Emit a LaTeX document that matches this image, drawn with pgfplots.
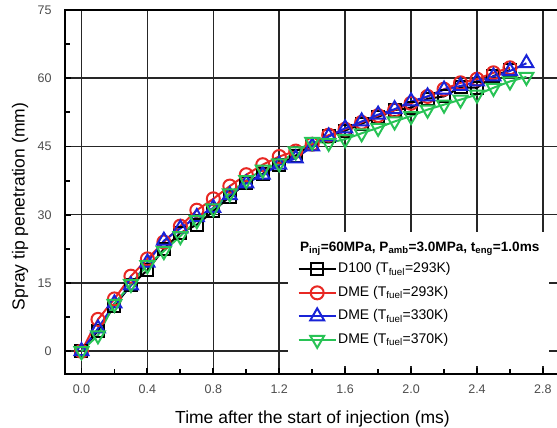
\documentclass[border=0pt]{standalone}
\usepackage{fontspec}
\setmainfont{Liberation Sans}
\usepackage{pgfplots}
\pgfplotsset{compat=1.18}
\definecolor{cRed}{RGB}{232,40,35}
\definecolor{cBlue}{RGB}{25,35,215}
\definecolor{cGreen}{RGB}{40,195,85}
\begin{document}
\begin{tikzpicture}
\begin{axis}[
  scale only axis, width=495pt, height=364pt,
  xmin=-0.1, xmax=2.9037, ymin=-5, ymax=75,
  xtick={0,0.4,0.8,1.2,1.6,2.0,2.4,2.8},
  ytick={0,15,30,45,60,75},
  minor tick num=1,
  tick pos=left, tick align=inside,
  major tick length=6pt, minor tick length=5pt,
  every tick/.style={black, line width=1.8pt},
  grid=major, major grid style={black!85, line width=1.5pt},
  axis line style={line width=2.4pt},
  /pgf/number format/assume math mode=true,
  ticklabel style={font=\fontsize{12.5}{14}\selectfont, text=black!70},
  xticklabel style={/pgf/number format/.cd, fixed, fixed zerofill, precision=1, /tikz/.cd, yshift=-7pt},
  yticklabel style={xshift=-10pt},
  xlabel={Time after the start of injection (ms)},
  xlabel style={at={([yshift=-50pt]axis description cs:0.5,0)}, anchor=base, font=\fontsize{17.5}{20}\selectfont},
  ylabel={Spray tip penetration (mm)},
  ylabel style={at={([xshift=-45pt]axis description cs:0,0.46)}, anchor=center, font=\fontsize{17.5}{20}\selectfont},
  legend image code/.code={\draw[mark repeat=2,mark phase=2,#1] plot coordinates {(0pt,0pt) (18.5pt,0pt) (37pt,0pt)};},
  legend style={draw=none, fill=none, at={(axis description cs:0.4697,0.31)}, anchor=north west, inner sep=0pt, row sep=7.5pt, nodes={inner sep=1.5pt, text height=10pt, text depth=3pt}, font=\fontsize{14}{16}\selectfont},
  legend cell align=left,
]
\addplot[black, line width=2pt, mark=square, mark size=6pt, mark options={solid, fill=white, line width=2pt}] coordinates {
(0,0) (0.1,4.5) (0.2,10.0) (0.3,14.5) (0.4,17.8) (0.5,22.5) (0.6,26.0) (0.7,27.8) (0.8,30.8) (0.9,34.0)
(1.0,37.0) (1.1,39.0) (1.2,41.0) (1.3,43.0) (1.4,45.5) (1.5,47.3) (1.6,48.5) (1.7,50.0) (1.8,51.5) (1.9,53.0)
(2.0,53.5) (2.1,55.5) (2.2,56.0) (2.3,58.0) (2.4,57.9) (2.5,60.5) (2.6,61.8)};
\addlegendentry{D100 (T\textsubscript{fuel}=293K)}
\addplot[cRed, line width=2pt, mark=o, mark size=6.5pt, mark options={solid, fill=white, line width=2pt}] coordinates {
(0,0) (0.1,7.0) (0.2,11.5) (0.3,16.5) (0.4,20.3) (0.5,24.0) (0.6,27.5) (0.7,31.0) (0.8,33.5) (0.9,36.3)
(1.0,38.8) (1.1,41.0) (1.2,42.8) (1.3,44.0) (1.4,45.5) (1.5,47.5) (1.6,48.8) (1.7,50.3) (1.8,51.8) (1.9,53.0)
(2.0,54.5) (2.1,56.0) (2.2,57.6) (2.3,59.0) (2.4,59.8) (2.5,61.2) (2.6,62.3)};
\addlegendentry{DME (T\textsubscript{fuel}=293K)}
\addplot[cBlue, line width=2pt, mark=triangle, mark size=8pt, mark options={solid, fill=white, line width=2pt}] coordinates {
(0,0) (0.1,5.0) (0.2,10.5) (0.3,14.5) (0.4,19.5) (0.5,24.3) (0.6,27.0) (0.7,29.5) (0.8,31.5) (0.9,34.3)
(1.0,36.9) (1.1,38.8) (1.2,41.0) (1.3,42.4) (1.4,45.0) (1.5,47.2) (1.6,49.0) (1.7,50.5) (1.8,52.0) (1.9,53.2)
(2.0,54.9) (2.1,56.0) (2.2,57.5) (2.3,58.3) (2.4,59.3) (2.5,60.4) (2.6,61.6) (2.7,63.3)};
\addlegendentry{DME (T\textsubscript{fuel}=330K)}
\addplot[cGreen, line width=2pt, mark=triangle, mark size=8pt, mark options={solid, fill=white, line width=2pt, rotate=180}] coordinates {
(0,0) (0.1,3.5) (0.2,10.4) (0.3,14.8) (0.4,18.9) (0.5,22.0) (0.6,25.3) (0.7,28.8) (0.8,31.4) (0.9,34.7)
(1.0,37.6) (1.1,39.9) (1.2,41.3) (1.3,43.9) (1.4,46.0) (1.5,45.8) (1.6,46.6) (1.7,47.9) (1.8,49.1) (1.9,50.5)
(2.0,51.7) (2.1,53.1) (2.2,54.2) (2.3,55.3) (2.4,56.4) (2.5,57.9) (2.6,59.3) (2.7,60.3)};
\addlegendentry{DME (T\textsubscript{fuel}=370K)}
\fill[white] (rel axis cs:0.4505,0.022) rectangle (rel axis cs:0.9778,0.390);
\node[anchor=west, inner sep=0pt, font=\bfseries\fontsize{13.6}{16}\selectfont] at (rel axis cs:0.4747,0.345)
  {P\textsubscript{inj}=60MPa, P\textsubscript{amb}=3.0MPa, t\textsubscript{eng}=1.0ms};
\end{axis}
\pgfresetboundingbox
\path[use as bounding box] ([xshift=-65pt,yshift=-54pt]current axis.south west) rectangle ([xshift=-3pt,yshift=10pt]current axis.north east);
\end{tikzpicture}
\end{document}
